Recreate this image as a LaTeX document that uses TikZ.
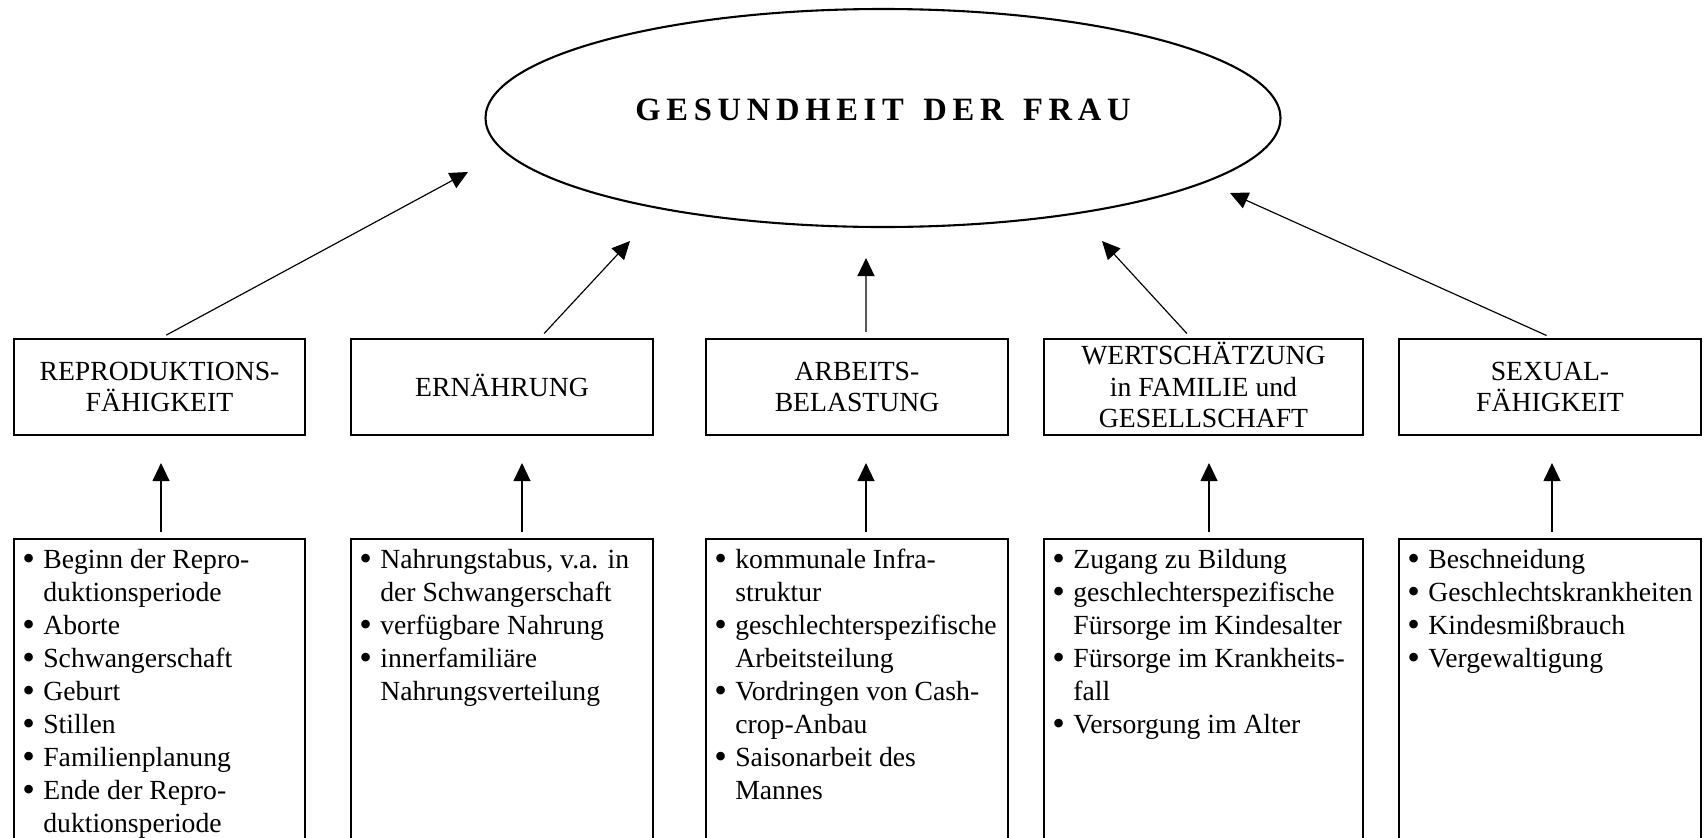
\documentclass[tikz,border=0pt]{standalone}
\usepackage{fontspec}
\setmainfont{Liberation Serif}
\usetikzlibrary{shapes.geometric,arrows.meta}
\newcommand\bpt{\makebox[9pt][l]{\raisebox{-1pt}{\scalebox{1.3}{\textbullet}}}}
\newcommand\bind{\hspace*{9pt}}
\tikzset{
  topbox/.style={draw, line width=0.9pt, minimum height=41.28pt, inner sep=0pt,
    align=center, font=\fontsize{11.9}{13.6}\selectfont},
  listbox/.style={draw, line width=0.9pt, minimum height=172pt, inner sep=0pt},
  listtext/.style={anchor=north west, inner sep=0pt, align=left,
    font=\fontsize{11.9}{14.17}\selectfont},
  arr/.style={line width=0.5pt, -{Triangle[length=7.74pt, width=7.31pt]}},
  up/.style={arr, shorten <=2.58pt, shorten >=11.61pt},
  toell/.style={arr, shorten <=2.58pt}
}
\begin{document}
\begin{tikzpicture}[x=0.43pt, y=-0.43pt]
\useasboundingbox (0,0) rectangle (1708,837);
\clip (0,0) rectangle (1708,837);

% central ellipse
\node[ellipse, draw, line width=0.9pt, minimum width=341.85pt, minimum height=93.74pt, inner sep=0pt] (g) at (883,118) {};
\node[inner sep=0pt, font=\fontsize{14}{16}\selectfont\bfseries] (title) at (883,110)
  {\makebox[213pt][s]{G\hfill E\hfill S\hfill U\hfill N\hfill D\hfill H\hfill E\hfill I\hfill T\hfill\hspace{3.5pt}\hfill D\hfill E\hfill R\hfill\hspace{3.5pt}\hfill F\hfill R\hfill A\hfill U}};

% top boxes
\node[topbox, minimum width=125.13pt] (t1) at (159.5,387) {REPRODUKTIONS-\\FÄHIGKEIT};
\node[topbox, minimum width=129.86pt] (t2) at (502,387) {ERN\smash{Ä}HRUNG};
\node[topbox, minimum width=129.86pt] (t3) at (857,387) {ARBEITS-\\BELASTUNG};
\node[topbox, minimum width=137.17pt] (t4) at (1203.5,387) {WERTSCH\smash{Ä}TZUNG\\in FAMILIE und\\GESELLSCHAFT};
\node[topbox, minimum width=129.86pt] (t5) at (1550,387) {SEXUAL-\\FÄHIGKEIT};

% bottom boxes
\node[listbox, minimum width=125.13pt] (b1) at (159.5,739) {};
\node[listbox, minimum width=129.86pt] (b2) at (502,739) {};
\node[listbox, minimum width=129.86pt] (b3) at (857,739) {};
\node[listbox, minimum width=137.17pt] (b4) at (1203.5,739) {};
\node[listbox, minimum width=129.86pt] (b5) at (1550,739) {};

\node[listtext] (l1) at ([xshift=3.87pt, yshift=-2.9pt]b1.north west)
  {\rule{0pt}{10pt}\bpt Beginn der Repro-\\\bind duktionsperiode\\\bpt Aborte\\\bpt Schwangerschaft\\\bpt Geburt\\\bpt Stillen\\\bpt Familienplanung\\\bpt Ende der Repro-\\\bind duktionsperiode};
\node[listtext] (l2) at ([xshift=3.87pt, yshift=-2.9pt]b2.north west)
  {\rule{0pt}{10pt}\bpt Nahrungstabus, v.a. in\\\bind der Schwangerschaft\\\bpt verfügbare Nahrung\\\bpt innerfamiliäre\\\bind Nahrungsverteilung};
\node[listtext] (l3) at ([xshift=3.87pt, yshift=-2.9pt]b3.north west)
  {\rule{0pt}{10pt}\bpt kommunale Infra-\\\bind struktur\\\bpt geschlechterspezifische\\\bind Arbeitsteilung\\\bpt Vordringen von Cash-\\\bind crop-Anbau\\\bpt Saisonarbeit des\\\bind Mannes};
\node[listtext] (l4) at ([xshift=3.87pt, yshift=-2.9pt]b4.north west)
  {\rule{0pt}{10pt}\bpt Zugang zu Bildung\\\bpt geschlechterspezifische\\\bind Fürsorge im Kindesalter\\\bpt Fürsorge im Krankheits-\\\bind fall\\\bpt Versorgung im Alter};
\node[listtext] (l5) at ([xshift=3.87pt, yshift=-2.9pt]b5.north west)
  {\rule{0pt}{10pt}\bpt Beschneidung\\\bpt Geschlechtskrankheiten\\\bpt Kindesmißbrauch\\\bpt Vergewaltigung};

% arrows bottom -> top
\draw[up] ([xshift=0.65pt]b1.north) -- ([xshift=0.65pt]t1.south);
\draw[up] ([xshift=8.6pt]b2.north) -- ([xshift=8.6pt]t2.south);
\draw[up] ([xshift=3.87pt]b3.north) -- ([xshift=3.87pt]t3.south);
\draw[up] ([xshift=2.37pt]b4.north) -- ([xshift=2.37pt]t4.south);
\draw[up] ([xshift=0.86pt]b5.north) -- ([xshift=0.86pt]t5.south);

% arrow tips near ellipse
\coordinate (e1) at (468,172);
\coordinate (e2) at (630,241);
\coordinate (e3) at (866,258);
\coordinate (e4) at (1102,241);
\coordinate (e5) at (1230,193);

\draw[toell] ([xshift=0.65pt]t1.north) -- (e1);
\draw[toell] ([xshift=16.34pt]t2.north) -- (e2);
\draw[toell] ([xshift=3.87pt]t3.north) -- (e3);
\draw[toell] ([xshift=-5.38pt]t4.north) -- (e4);
\draw[toell] ([xshift=0.86pt]t5.north) -- (e5);
\end{tikzpicture}
\end{document}
